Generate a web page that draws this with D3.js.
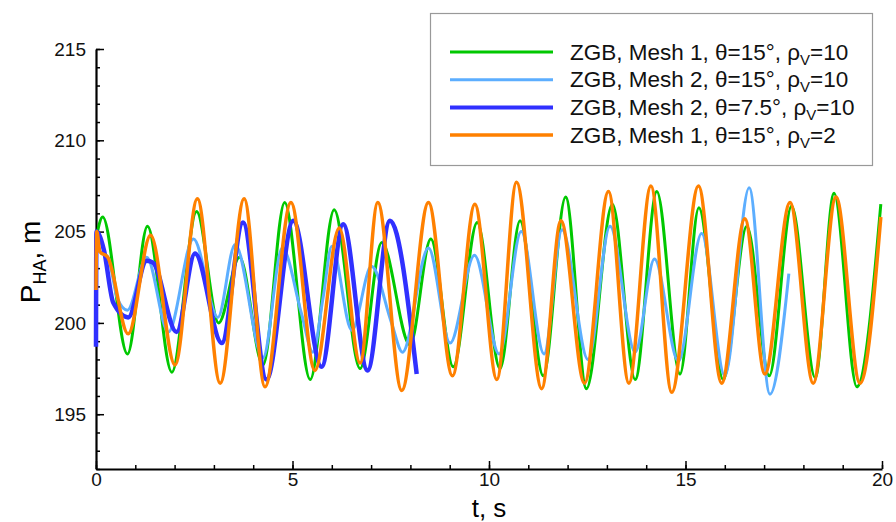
<!DOCTYPE html>
<html>
<head>
<meta charset="utf-8">
<script src="https://cdn.jsdelivr.net/npm/d3@7"></script>
<style>
  body { margin: 0; background: #fff; }
  svg { display: block; font-family: "Liberation Sans", Arial, sans-serif; }
</style>
</head>
<body>
<svg id="chart" width="896" height="522"></svg>
<script>
// ---- data (t [s], P_HA [m]): turning points of each run ----
var mesh1Theta15Rho10 = [
  [0, 204.6], [0.17, 205.8], [0.80, 198.3], [1.31, 205.3], [1.93, 197.3], [2.56, 206.1],
  [3.12, 200.0], [3.65, 203.6], [4.25, 197.7], [4.80, 206.6], [5.45, 196.9], [6.06, 206.2],
  [6.72, 197.5], [7.27, 204.4], [7.99, 198.8], [8.52, 204.6], [9.09, 197.6], [9.70, 205.5],
  [10.28, 197.5], [10.79, 205.6], [11.38, 197.1], [11.95, 206.9], [12.48, 196.4], [13.14, 206.5],
  [13.72, 196.9], [14.27, 207.2], [14.86, 197.2], [15.34, 206.3], [15.96, 196.9], [16.56, 205.3],
  [17.13, 197.1], [17.70, 206.4], [18.30, 197.0], [18.78, 207.1], [19.36, 196.5], [19.97, 206.5]
];
var mesh2Theta15Rho10 = [
  [0, 204.0], [0.30, 203.6], [0.55, 201.3], [0.80, 200.7], [1.29, 203.6], [1.84, 199.5],
  [2.48, 204.6], [3.10, 200.3], [3.54, 204.3], [4.25, 198.1], [4.74, 204.1], [5.23, 200.5],
  [5.52, 198.4], [5.78, 201.4], [6.00, 204.2], [6.51, 199.6], [7.01, 203.1], [7.52, 200.0],
  [7.80, 198.4], [8.46, 204.1], [9.01, 198.9], [9.63, 203.7], [10.26, 198.3], [10.82, 205.0],
  [11.40, 198.3], [11.86, 205.1], [12.52, 198.0], [13.08, 205.3], [13.72, 198.4], [14.21, 203.5],
  [14.82, 197.9], [15.41, 204.9], [16.00, 197.1], [16.62, 207.4], [17.15, 196.1], [17.63, 202.7]
];
var mesh2Theta75Rho10 = [
  [0, 198.7], [0.01, 205.0], [0.20, 204.0], [0.44, 201.1], [0.82, 200.3], [1.29, 203.4],
  [1.45, 203.3], [2.05, 199.5], [2.52, 203.8], [3.20, 198.9], [3.74, 205.5], [4.34, 196.9],
  [5.02, 205.6], [5.74, 197.6], [6.29, 205.4], [6.91, 197.4], [7.48, 205.6], [8.16, 197.2]
];
var mesh1Theta15Rho2 = [
  [0, 201.8], [0.02, 205.0], [0.10, 203.9], [0.30, 203.6], [0.82, 199.4], [1.39, 204.8],
  [2.01, 197.7], [2.58, 206.8], [3.16, 196.7], [3.77, 206.8], [4.30, 196.5], [4.96, 206.6],
  [5.57, 197.4], [6.19, 205.2], [6.72, 197.8], [7.17, 206.6], [7.78, 196.3], [8.46, 206.6],
  [9.07, 197.1], [9.64, 206.5], [10.20, 196.9], [10.70, 207.7], [11.34, 196.4], [11.83, 205.6],
  [12.43, 196.7], [13.04, 207.2], [13.56, 196.7], [14.12, 207.5], [14.65, 196.2], [15.33, 207.5],
  [15.92, 196.7], [16.51, 205.7], [17.02, 197.2], [17.66, 206.6], [18.25, 196.7], [18.83, 206.9],
  [19.44, 196.7], [19.97, 205.8]
];

var xTicks = [0, 5, 10, 15, 20];
var yTicks = [195, 200, 205, 210, 215];

var series = [
  { mesh: '1', theta: '15', rho: '2',  data: mesh1Theta15Rho2 },
  { mesh: '1', theta: '15', rho: '10', data: mesh1Theta15Rho10 },
  { mesh: '2', theta: '15', rho: '10', data: mesh2Theta15Rho10 },
  { mesh: '2', theta: '7.5', rho: '10', data: mesh2Theta75Rho10 }
];

(function() {
  // legend order differs from draw order
  var legendOrder = [1, 2, 3, 0];
  var drawOrder = [1, 2, 3, 0];
  var styles = [
    { color: '#ff8000', width: 3.5 },
    { color: '#00c800', width: 3 },
    { color: '#5caeff', width: 3 },
    { color: '#3030ff', width: 4.5 }
  ];

  var svg = d3.select('#chart');
  var m = { left: 96, right: 882, top: 49, bottom: 469 };

  var x = d3.scaleLinear().domain([0, 20]).range([m.left, m.right]);
  var y = d3.scaleLinear().domain([192, 215]).range([m.bottom, m.top]);

  // minor ticks first
  svg.append('g')
    .attr('transform', 'translate(0,' + m.bottom + ')')
    .call(d3.axisBottom(x).ticks(20).tickSize(-4).tickSizeOuter(0).tickFormat(''))
    .call(function(g) { g.select('.domain').remove(); });
  svg.append('g')
    .attr('transform', 'translate(' + m.left + ',0)')
    .call(d3.axisLeft(y).ticks(23).tickSize(-4).tickSizeOuter(0).tickFormat(''))
    .call(function(g) { g.select('.domain').remove(); });

  svg.append('g')
    .attr('transform', 'translate(0,' + m.bottom + ')')
    .call(d3.axisBottom(x).tickValues(xTicks).tickSize(-8).tickSizeOuter(0).tickPadding(4));
  svg.append('g')
    .attr('transform', 'translate(' + m.left + ',0)')
    .call(d3.axisLeft(y).tickValues(yTicks).tickSize(-8).tickSizeOuter(0).tickPadding(10));

  svg.selectAll('.tick line').attr('stroke', '#000').attr('stroke-width', 1.5);
  svg.selectAll('.domain').attr('stroke', '#000').attr('stroke-width', 2.2);
  svg.selectAll('.tick text')
    .style('font-size', '19px').style('fill', '#111')
    .style('font-family', '"Liberation Sans", Arial, sans-serif');

  // curves
  var line = d3.line()
    .x(function(d) { return x(d[0]); })
    .y(function(d) { return y(d[1]); })
    .curve(d3.curveMonotoneX);

  drawOrder.forEach(function(i) {
    svg.append('path')
      .datum(series[i].data)
      .attr('fill', 'none')
      .attr('stroke', styles[i].color)
      .attr('stroke-width', styles[i].width)
      .attr('stroke-linejoin', 'round')
      .attr('d', line);
  });

  // axis titles
  svg.append('text')
    .attr('x', x(10)).attr('y', 517)
    .attr('text-anchor', 'middle')
    .attr('font-size', 26)
    .text('t, s');

  var yTitle = svg.append('text')
    .attr('transform', 'translate(40,262) rotate(-90)')
    .attr('text-anchor', 'middle')
    .attr('font-size', 28);
  yTitle.append('tspan').text('P');
  yTitle.append('tspan').attr('font-size', 18).attr('dy', 6).text('HA');
  yTitle.append('tspan').attr('dy', -6).text(', m');

  // legend
  var legend = svg.append('g');
  legend.append('rect')
    .attr('x', 430.5).attr('y', 13.5).attr('width', 442).attr('height', 152)
    .attr('fill', '#fff').attr('stroke', '#999').attr('stroke-width', 1.2);

  legendOrder.forEach(function(i, k) {
    var ry = 52 + k * 27.7;
    legend.append('line')
      .attr('x1', 450).attr('x2', 553).attr('y1', ry).attr('y2', ry)
      .attr('stroke', styles[i].color)
      .attr('stroke-width', Math.min(styles[i].width, 4));
    var t = legend.append('text')
      .attr('x', 570).attr('y', ry + 7.5)
      .attr('font-size', 22.5).attr('fill', '#111');
    t.append('tspan').text('ZGB, Mesh ' + series[i].mesh + ', \u03b8=' + series[i].theta + '\u00b0, \u03c1');
    t.append('tspan').attr('font-size', 15).attr('dy', 5).text('V');
    t.append('tspan').attr('dy', -5).text('=' + series[i].rho);
  });
})();
</script>
</body>
</html>
